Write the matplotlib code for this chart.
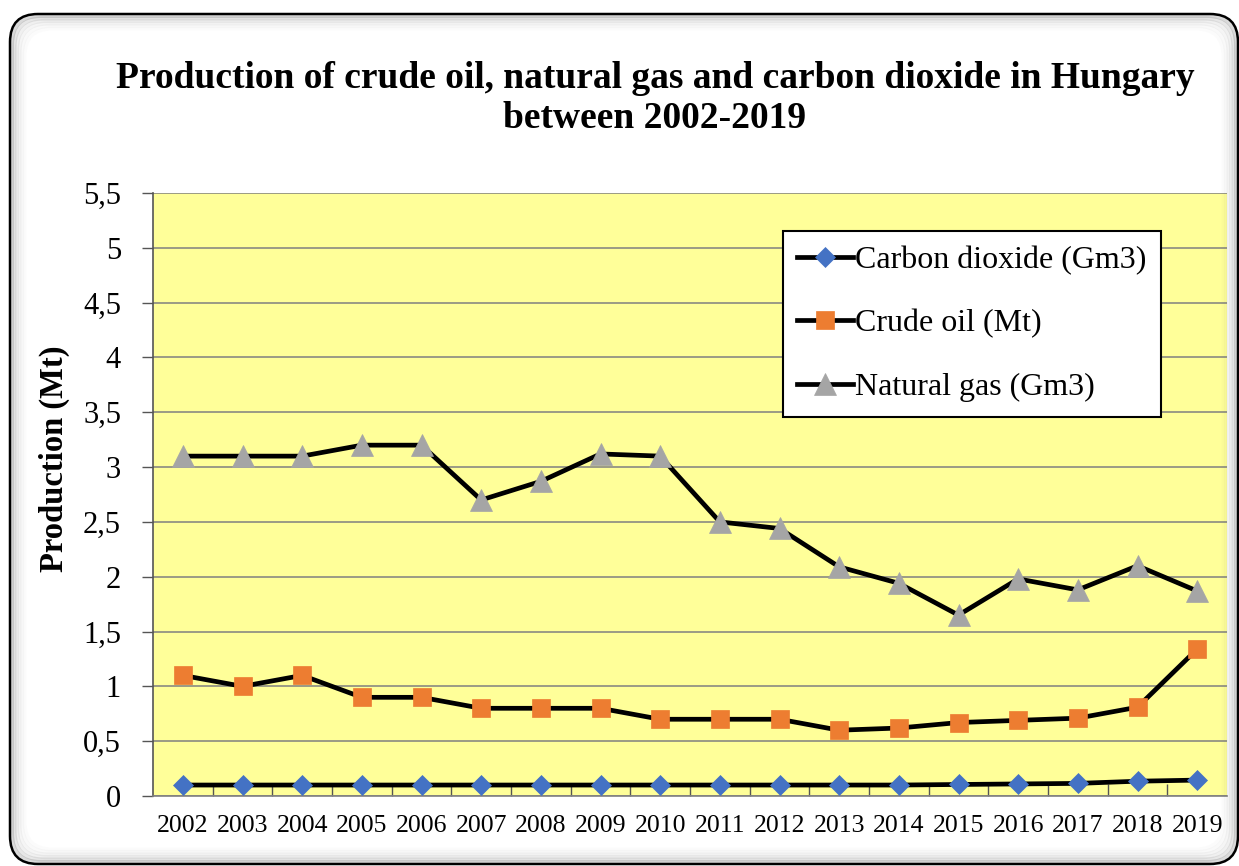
import matplotlib
matplotlib.use("Agg")
import matplotlib.pyplot as plt
from matplotlib.patches import FancyBboxPatch
from matplotlib.transforms import IdentityTransform
from matplotlib.ticker import FuncFormatter, MultipleLocator

years = ["2002", "2003", "2004", "2005", "2006", "2007", "2008", "2009", "2010",
         "2011", "2012", "2013", "2014", "2015", "2016", "2017", "2018", "2019"]
carbon_dioxide = [0.1, 0.1, 0.1, 0.1, 0.1, 0.1, 0.1, 0.1, 0.1,
                  0.1, 0.1, 0.1, 0.1, 0.105, 0.11, 0.115, 0.135, 0.145]
crude_oil = [1.1, 1.0, 1.1, 0.9, 0.9, 0.8, 0.8, 0.8, 0.7,
             0.7, 0.7, 0.6, 0.62, 0.67, 0.69, 0.71, 0.81, 1.34]
natural_gas = [3.1, 3.1, 3.1, 3.2, 3.2, 2.7, 2.87, 3.12, 3.1,
               2.5, 2.44, 2.09, 1.94, 1.65, 1.98, 1.88, 2.1, 1.87]

title = "Production of crude oil, natural gas and carbon dioxide in Hungary\nbetween 2002-2019"
ylabel = "Production (Mt)"
labels = ["Carbon dioxide (Gm3)", "Crude oil (Mt)", "Natural gas (Gm3)"]

W, H = 1239, 866
fig = plt.figure(figsize=(W / 100, H / 100), dpi=100)
fig.patch.set_facecolor("white")

serif = ["Liberation Serif", "DejaVu Serif"]


# Rounded outer border (pixel coordinates, y measured from top) with soft inner shadow
def px_rect(x0, y0, x1, y1, r, **kw):
    return FancyBboxPatch((x0, H - y1), x1 - x0, y1 - y0,
                          boxstyle="round,pad=0,rounding_size=%g" % r,
                          transform=IdentityTransform(), **kw)


for i, a in enumerate([0.22, 0.14, 0.09, 0.06, 0.035, 0.02]):
    d = 2 + i * 2.5
    fig.patches.append(px_rect(10 + d, 14 + d, 1238 - d, 864 - d, 28, fill=False,
                               edgecolor=(0.35, 0.35, 0.35, a), linewidth=3, zorder=0))
fig.patches.append(px_rect(10, 14, 1238, 864, 28, fill=False, edgecolor="black",
                           linewidth=1.8, zorder=1))

ax = fig.add_axes([153 / W, 1 - 796 / H, (1227 - 153) / W, (796 - 193) / H])
ax.set_facecolor("#FFFF99")

x = list(range(len(years)))
lw = 3.4
ax.plot(x, carbon_dioxide, color="black", lw=lw, marker="D", markersize=10.5,
        markerfacecolor="#4472C4", markeredgecolor="#4472C4", markeredgewidth=0.5,
        label=labels[0], zorder=3, solid_joinstyle="round")
ax.plot(x, crude_oil, color="black", lw=lw, marker="s", markersize=12.5,
        markerfacecolor="#ED7D31", markeredgecolor="#ED7D31", markeredgewidth=0.5,
        label=labels[1], zorder=3, solid_joinstyle="round")
ax.plot(x, natural_gas, color="black", lw=lw, marker="^", markersize=16.5,
        markerfacecolor="#A5A5A5", markeredgecolor="#A5A5A5", markeredgewidth=0.5,
        label=labels[2], zorder=3, solid_joinstyle="round")

ax.set_xlim(-0.5, len(years) - 0.5)
ax.set_ylim(0, 5.5)
ax.yaxis.set_major_locator(MultipleLocator(0.5))
ax.yaxis.set_major_formatter(FuncFormatter(lambda v, p: ("%g" % round(v, 2)).replace(".", ",")))
ax.grid(axis="y", color="#808080", linewidth=1.1, zorder=1)
ax.set_axisbelow(True)

ax.set_xticks(x)
ax.set_xticklabels(years, fontfamily=serif, fontsize=18.5)
ax.set_xticks([i + 0.5 for i in x[:-1]], minor=True)
ax.tick_params(axis="x", which="major", length=0, pad=14)
ax.tick_params(axis="x", which="minor", direction="in", length=9, width=1, color="#555555")
ax.tick_params(axis="y", length=8, width=1, color="#555555", pad=15)
for lab in ax.get_yticklabels():
    lab.set_fontfamily(serif)
    lab.set_fontsize(22)

for s in ["top", "right"]:
    ax.spines[s].set_visible(False)
ax.spines["left"].set_color("#555555")
ax.spines["bottom"].set_color("#808080")
ax.spines["left"].set_linewidth(1.2)
ax.spines["bottom"].set_linewidth(1.2)

ax.set_ylabel(ylabel, fontfamily=serif, fontsize=23.5, fontweight="bold")
ax.yaxis.set_label_coords((70 - 153) / 1074, (796 - 459) / 603)

leg = ax.legend(loc="upper left", bbox_to_anchor=((783 - 153) / 1074, (796 - 231) / 603),
                borderaxespad=0, prop={"family": serif, "size": 23},
                frameon=True, fancybox=False, edgecolor="black", facecolor="white",
                framealpha=1, handlelength=1.75, handletextpad=0.05, labelspacing=1.08,
                borderpad=0.45, shadow=False)
leg.get_frame().set_linewidth(1.5)

fig.text(655 / W, 1 - 98.5 / H, title, ha="center", va="center", fontfamily=serif,
         fontsize=27, fontweight="bold", linespacing=1.2)

fig.savefig("out.png", dpi=100)
